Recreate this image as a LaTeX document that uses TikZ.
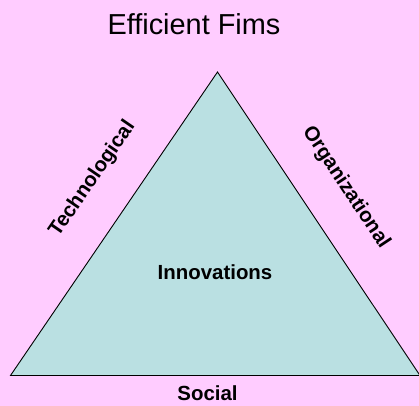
\documentclass[tikz,border=0pt]{standalone}
\usepackage{fontspec}
\setmainfont{Liberation Sans}
\definecolor{bgpink}{RGB}{255,204,255}
\definecolor{trifill}{RGB}{186,224,226}
\tikzset{
  lbl/.style={font=\fontsize{20.5}{24}\selectfont\bfseries, inner sep=0pt, text=black},
  ttl/.style={font=\fontsize{29}{34}\selectfont, inner sep=0pt, text=black},
}
\begin{document}
\begin{tikzpicture}[x=1bp,y=-1bp]
  \fill[bgpink] (0,0) rectangle (419,406);
  \useasboundingbox (0,0) rectangle (419,406);
  \coordinate (apex) at (217.5,72);
  \coordinate (bl) at (10.5,375.5);
  \coordinate (br) at (420,375.5);
  \filldraw[fill=trifill, draw=black, line width=0.9bp, line join=miter] (apex) -- (bl) -- (br) -- cycle;
  \node[ttl, anchor=base] (title) at (194,34) {Efficient Fims};
  \node[lbl, anchor=base] (social) at (207.5,400.5) {Social};
  \node[lbl, anchor=base] (innov) at (215,279.5) {Innovations};
  \node[lbl, rotate=55.5] (tech) at (92.5,179) {Technological};
  \node[lbl, rotate=-56.5] (org) at (346,187.5) {Organizational};
\end{tikzpicture}
\end{document}
